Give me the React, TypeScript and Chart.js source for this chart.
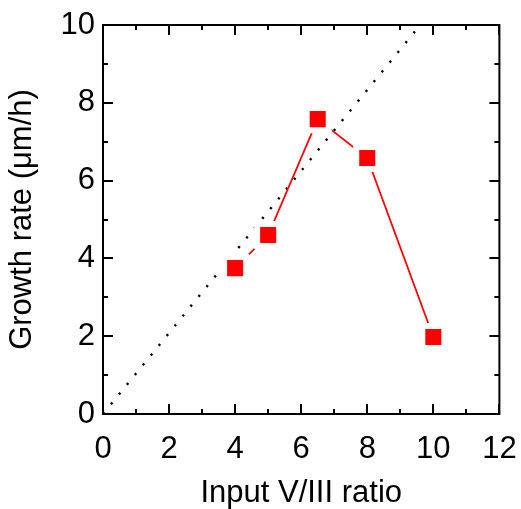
import React, { useEffect, useRef } from "react";
import { Chart, registerables } from "chart.js";

Chart.register(...registerables);

const ratioX = [4, 5, 6.5, 8, 10];
const growthY = [3.75, 4.6, 7.58, 6.58, 1.98];
const refLineX = [0, 9.6];
const refLineY = [0, 10];
const xTicks = [0, 2, 4, 6, 8, 10, 12];
const yTicks = [0, 2, 4, 6, 8, 10];
const xMinorTicks = [1, 3, 5, 7, 9, 11];
const yMinorTicks = [1, 3, 5, 7, 9];

const FONT = '"Liberation Sans", Arial, sans-serif';
const FS = 31;

const framePlugin = {
  id: "frame",
  afterDraw(chart: any) {
    const { ctx, chartArea } = chart;
    const { left, right, top, bottom } = chartArea;
    const xs = chart.scales.x;
    const ys = chart.scales.y;
    ctx.save();
    ctx.strokeStyle = "#000";
    ctx.lineWidth = 2;
    ctx.lineCap = "butt";
    ctx.beginPath();
    ctx.rect(left, top, right - left, bottom - top);
    ctx.stroke();
    const major = 10;
    const minor = 5;
    ctx.beginPath();
    const drawX = (v: number, len: number) => {
      const p = Math.round(xs.getPixelForValue(v));
      ctx.moveTo(p, bottom);
      ctx.lineTo(p, bottom - len);
      ctx.moveTo(p, top);
      ctx.lineTo(p, top + len);
    };
    const drawY = (v: number, len: number) => {
      const p = Math.round(ys.getPixelForValue(v));
      ctx.moveTo(left, p);
      ctx.lineTo(left + len, p);
      ctx.moveTo(right, p);
      ctx.lineTo(right - len, p);
    };
    xTicks.forEach((v) => drawX(v, major));
    xMinorTicks.forEach((v) => drawX(v, minor));
    yTicks.forEach((v) => drawY(v, major));
    yMinorTicks.forEach((v) => drawY(v, minor));
    ctx.stroke();
    ctx.restore();
  },
};

export default function App() {
  const ref = useRef<HTMLCanvasElement>(null);
  useEffect(() => {
    document.body.style.margin = "0";
    const canvas = ref.current!;
    const chart = new Chart(canvas, {
      type: "scatter",
      data: {
        datasets: [
          {
            label: "ref",
            data: refLineX.map((x, i) => ({ x, y: refLineY[i] })),
            showLine: true,
            borderColor: "#000",
            borderWidth: 2.4,
            borderDash: [2.2, 10.4],
            pointRadius: 0,
            order: 2,
          },
          {
            label: "growth",
            data: ratioX.map((x, i) => ({ x, y: growthY[i] })),
            showLine: true,
            borderColor: "#ff0000",
            borderWidth: 1.8,
            pointStyle: "rect",
            pointRadius: 15.6,
            pointBackgroundColor: "#ff0000",
            pointBorderColor: "#ffffff",
            pointBorderWidth: 6,
            order: 1,
          },
        ],
      },
      options: {
        animation: false,
        responsive: false,
        events: [],
        layout: { padding: { top: 25, right: 18, left: 0, bottom: 0 } },
        plugins: {
          legend: { display: false },
          tooltip: { enabled: false },
        },
        scales: {
          x: {
            type: "linear",
            min: 0,
            max: 12,
            afterFit: (s: any) => {
              s.height = 95;
              s.paddingLeft = 0;
              s.paddingRight = 0;
            },
            afterBuildTicks: (s: any) => {
              s.ticks = xTicks.map((v) => ({ value: v }));
            },
            ticks: {
              color: "#000",
              font: { family: FONT, size: FS },
              padding: 17,
              maxRotation: 0,
            },
            grid: { display: false, drawTicks: false },
            border: { display: false },
            title: {
              display: true,
              text: "Input V/III ratio",
              color: "#000",
              font: { family: FONT, size: FS, lineHeight: 1 },
              padding: { top: 0, bottom: 0 },
            },
          },
          y: {
            type: "linear",
            min: 0,
            max: 10,
            afterFit: (s: any) => {
              s.width = 103;
              s.paddingTop = 0;
              s.paddingBottom = 0;
            },
            afterBuildTicks: (s: any) => {
              s.ticks = yTicks.map((v) => ({ value: v }));
            },
            ticks: {
              color: "#000",
              font: { family: FONT, size: FS },
              padding: 8,
            },
            grid: { display: false, drawTicks: false },
            border: { display: false },
            title: {
              display: true,
              text: "Growth rate (μm/h)",
              color: "#000",
              font: { family: FONT, size: FS, lineHeight: 1 },
              padding: { top: 7, bottom: 0 },
            },
          },
        },
      },
      plugins: [framePlugin],
    } as any);
    return () => chart.destroy();
  }, []);
  return <canvas ref={ref} width={521} height={509} style={{ display: "block" }} />;
}
